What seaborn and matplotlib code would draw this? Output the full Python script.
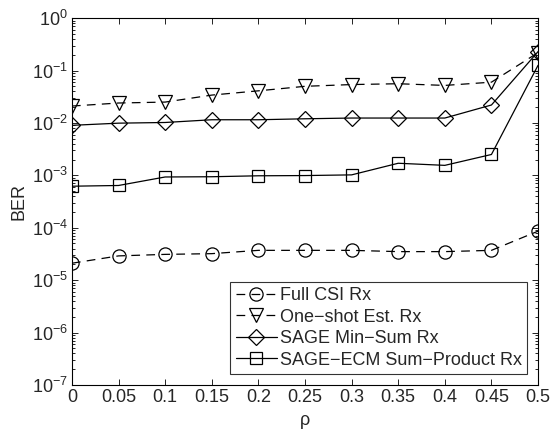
import numpy as np
import pandas as pd
import matplotlib
matplotlib.use("Agg")
import matplotlib.pyplot as plt
import seaborn as sns

# Correlation coefficient values on the x axis
rho = [0, 0.05, 0.1, 0.15, 0.2, 0.25, 0.3, 0.35, 0.4, 0.45, 0.5]
rho_labels = ["0", "0.05", "0.1", "0.15", "0.2", "0.25", "0.3", "0.35", "0.4", "0.45", "0.5"]

# Bit error rate of each receiver
ber_full_csi = [2.1e-5, 2.9e-5, 3.1e-5, 3.2e-5, 3.7e-5, 3.7e-5, 3.7e-5, 3.5e-5, 3.5e-5, 3.7e-5, 8.6e-5]
ber_one_shot = [0.021, 0.024, 0.025, 0.034, 0.041, 0.050, 0.054, 0.056, 0.052, 0.060, 0.22]
ber_sage_minsum = [0.0090, 0.0099, 0.0102, 0.0115, 0.0115, 0.0120, 0.0124, 0.0124, 0.0124, 0.022, 0.23]
ber_sage_ecm = [0.00062, 0.00064, 0.00093, 0.00094, 0.00098, 0.00099, 0.00102, 0.0017, 0.00155, 0.0025, 0.126]

series_names = ["Full CSI Rx", "One\u2212shot Est. Rx", "SAGE Min\u2212Sum Rx",
                "SAGE\u2212ECM Sum\u2212Product Rx"]
series_values = [ber_full_csi, ber_one_shot, ber_sage_minsum, ber_sage_ecm]
series_markers = ["o", "v", "D", "s"]
series_sizes = [9.5, 10.5, 8, 9]
series_dashed = [True, True, False, False]

FS = 13

sns.set_style("ticks")
plt.rcParams["font.family"] = ["Liberation Sans", "DejaVu Sans"]
plt.rcParams["mathtext.fontset"] = "custom"
plt.rcParams["mathtext.rm"] = "Liberation Sans"
plt.rcParams["mathtext.it"] = "Liberation Sans:italic"
plt.rcParams["font.size"] = FS

fig = plt.figure(figsize=(5.53, 4.32), dpi=100)
ax = fig.add_axes([0.130, 0.109, 0.843, 0.849])

for name, vals, mk, ms, dashed in zip(series_names, series_values, series_markers,
                                      series_sizes, series_dashed):
    df = pd.DataFrame({"rho": rho, "ber": vals})
    sns.lineplot(data=df, x="rho", y="ber", ax=ax, color="k", label=name,
                 marker=mk, markersize=ms, markerfacecolor="none",
                 markeredgecolor="k", markeredgewidth=0.9, linewidth=0.9,
                 linestyle=(0, (7, 5)) if dashed else "-")

ax.set_yscale("log")
ax.set_xlim(0, 0.5)
ax.set_ylim(1e-7, 1)
ax.set_xticks(rho)
ax.set_xticklabels(rho_labels)
ax.set_yticks([10.0 ** k for k in range(-7, 1)])
ax.yaxis.set_minor_locator(matplotlib.ticker.LogLocator(base=10, subs=np.arange(2, 10), numticks=20))
ax.yaxis.set_minor_formatter(matplotlib.ticker.NullFormatter())

ax.tick_params(which="both", direction="in", top=True, right=True, labelsize=FS,
               color="k", width=0.6)
ax.tick_params(which="major", length=4, pad=3)
ax.tick_params(which="minor", length=2)
for sp in ax.spines.values():
    sp.set_linewidth(0.8)
    sp.set_color("k")

ax.set_xlabel("\u03c1", fontsize=FS, labelpad=4)
ax.set_ylabel("BER", fontsize=FS, labelpad=3)

leg = ax.legend(loc="lower right", frameon=True, fancybox=False, edgecolor="k",
                fontsize=FS, handlelength=2.3, handletextpad=0.15, borderpad=0.3,
                labelspacing=0.25, borderaxespad=0.6)
leg.get_frame().set_linewidth(0.8)

fig.savefig("out.png", dpi=100)
